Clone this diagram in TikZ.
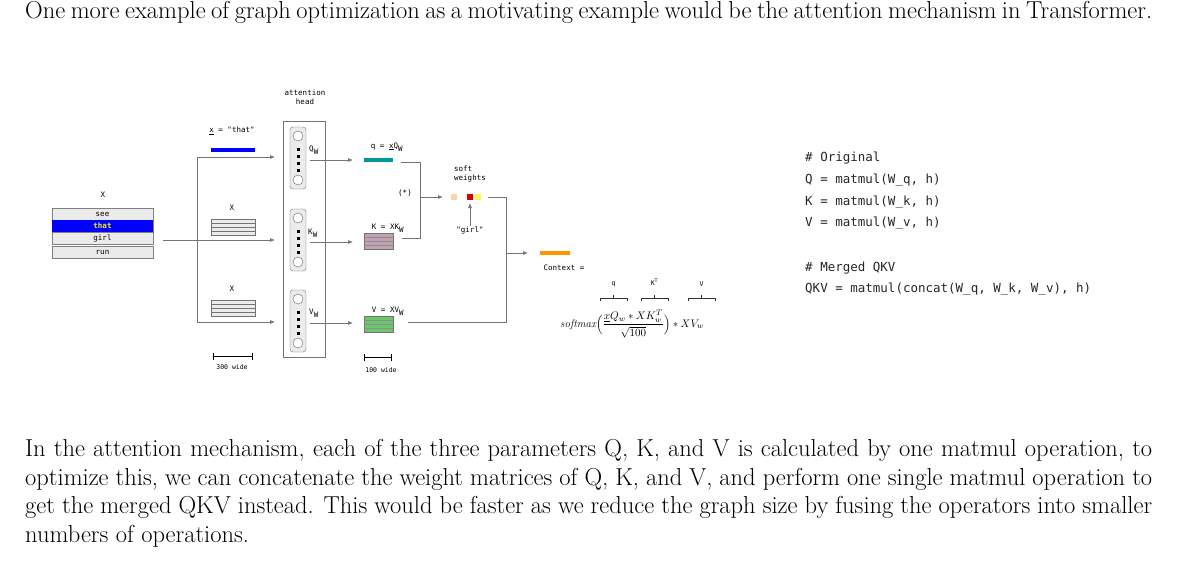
\documentclass[tikz,border=0pt]{standalone}
\usepackage{fontspec}
\usepackage{amsmath}
\newfontfamily\mono{DejaVu Sans Mono}
\begin{document}
\begin{tikzpicture}[x=1pt,y=-1pt,
  sm/.style={font=\mono\fontsize{7.5}{9}\selectfont,inner sep=0pt},
  code/.style={font=\mono\fontsize{12.5}{15}\selectfont,anchor=west,inner sep=0pt,text=black!85},
  ln/.style={draw=black!55,line width=0.7pt},
  arr/.style={ln,-{Latex[length=5pt,width=4pt]}},
  para/.style={anchor=north west,inner sep=0pt,text width=1127pt,align=justify,font=\fontsize{24.5}{28.6}\selectfont}]
\usetikzlibrary{arrows.meta}
\useasboundingbox (0,0) rectangle (1184,568);
\node[para] (top) at (25,1) {One more example of graph optimization as a motivating example would be the attention mechanism in Transformer.};
\node[para] (bot) at (25,439) {In the attention mechanism, each of the three parameters Q, K, and V is calculated by one matmul operation, to optimize this, we can concatenate the weight matrices of Q, K, and V, and perform one single matmul operation to get the merged QKV instead. This would be faster as we reduce the graph size by fusing the operators into smaller numbers of operations.};
% word table
\node[sm] (X0) at (103,195) {X};
\foreach \n/\w/\a/\b in {s/see/208/220,t/that/220/232,g/girl/232/244,r/run/246/258}{
  \filldraw[fill=black!8,draw=black!50] (52,\a) rectangle (153,\b);
  \node[sm] (w\n) at (102.5,{(\a+\b)/2}) {\w};}
\fill[blue] (52,220) rectangle (153,232);
\node[sm,text=yellow,font=\mono\bfseries\fontsize{7.5}{9}\selectfont] at (102.5,226) {that};
\coordinate (tabR) at (163,240);
\coordinate (hK) at (275,240);
\draw[arr] (tabR) -- (hK);
\coordinate (vt) at (197,157); \coordinate (vb) at (197,322);
\coordinate (hQ) at (275,157); \coordinate (hV) at (275,322);
\draw[ln] (vt) -- (vb);
\draw[arr] (vt) -- (hQ);
\draw[arr] (vb) -- (hV);
\node[sm] (xthat) at (232,131) {\underline{x} = "that"};
\fill[blue] (211,148) rectangle (255,152);
\node[sm] (x1) at (232,208) {X};
\node[sm] (x2) at (232,289) {X};
\foreach \y in {219,300}{
  \filldraw[fill=black!8,draw=black!55] (211,\y) rectangle (255,\y+16);
  \foreach \k in {4,8,12} \draw[black!55] (211,\y+\k) -- (255,\y+\k);}
% attention head
\node[sm,align=center] (ah) at (305,97) {attention\\head};
\draw[black!55,fill=white] (283,121) rectangle (325,357);
\foreach \a in {127,209,290}{
  \draw[black!55,fill=black!8,rounded corners=3pt] (290,\a) rectangle (306,\a+62);
  \draw[black!60,fill=white] (298,\a+9) circle (5);
  \draw[black!60,fill=white] (298,\a+53) circle (5);
  \foreach \k in {21,28,35,42} \fill (297,\a+\k) rectangle (299.5,\a+\k+2.5);}
\node[sm] (QW) at (314,150) {Q$_{\mbox{\mono\fontsize{7.5}{9}\selectfont W}}$};
\node[sm] (KW) at (313,233) {K$_{\mbox{\mono\fontsize{7.5}{9}\selectfont W}}$};
\node[sm] (VW) at (314,313) {V$_{\mbox{\mono\fontsize{7.5}{9}\selectfont W}}$};
\coordinate (oQ) at (310,160); \coordinate (oK) at (310,242); \coordinate (oV) at (310,323);
\coordinate (iq) at (353,160); \coordinate (iK) at (353,242); \coordinate (iV) at (353,323);
\draw[arr] (oQ) -- (iq); \draw[arr] (oK) -- (iK); \draw[arr] (oV) -- (iV);
% q K V
\fill[teal!80!cyan] (364,158) rectangle (393,162);
\node[sm] (qlab) at (387,147) {q = \underline{x}Q$_{\mbox{\mono\fontsize{7.5}{9}\selectfont W}}$};
\node[sm] (Klab) at (388,228) {K = XK$_{\mbox{\mono\fontsize{7.5}{9}\selectfont W}}$};
\node[sm] (Vlab) at (388,311) {V = XV$_{\mbox{\mono\fontsize{7.5}{9}\selectfont W}}$};
\foreach \y/\c in {233/{magenta!25!gray!70},316/{green!45!gray!80}}{
  \filldraw[fill=\c,draw=black!55] (364,\y) rectangle (393,\y+16);
  \foreach \k in {4,8,12} \draw[black!45] (364,\y+\k) -- (393,\y+\k);}
\coordinate (qo) at (401,162); \coordinate (Ko) at (402,238); \coordinate (Vo) at (408,322);
\coordinate (j) at (420,197); \coordinate (sw) at (443,197);
\draw[ln] (qo) -- (420,162) -- (420,238) -- (Ko);
\draw[arr] (j) -- (sw);
\node[sm] (star) at (405,193) {(*)};
\node[sm,align=left] (soft) at (470,174) {soft\\weights};
\fill[orange!35] (451,194) rectangle (457,200);
\fill[red!85!black] (467,194) rectangle (473,200);
\fill[yellow!70] (475,194) rectangle (481,200);
\node[sm] (girl) at (470,230) {"girl"};
\draw[arr] (girl.north) -- (470,203);
\coordinate (so) at (488,197); \coordinate (m) at (506,253); \coordinate (ci) at (528,253);
\draw[ln] (so) -- (506,197) -- (506,322) -- (Vo);
\draw[arr] (m) -- (ci);
\fill[orange!85!yellow] (540,251) rectangle (570,255);
\node[sm] (ctx) at (564,268) {Context =};
% formula
\node[inner sep=0pt,font=\fontsize{11}{13}\selectfont] (f) at (632,324) {$\mathit{softmax}\Big(\dfrac{\underline{x}Q_w * XK_w^T}{\sqrt{100}}\Big) * XV_w$};
\foreach \a/\b/\t/\yy in {600/627/q/284,641/668/{K$^{\mbox{\tiny T}}$}/282,688/715/V/284}{
  \draw[black!80,line width=0.6pt] (\a,301) -- (\a,298) -- (\b,298) -- (\b,301);
  \draw[black!80,line width=0.6pt] ({(\a+\b)/2},298) -- ({(\a+\b)/2},295);
  \node[sm,font=\mono\fontsize{6.5}{8}\selectfont] at ({(\a+\b)/2},\yy) {\t};}
% scales
\draw[line width=1pt,|-|] (213,356) -- (253,356);
\node[sm,font=\mono\fontsize{6.5}{8}\selectfont] (s300) at (232,367) {300 wide};
\draw[line width=1pt,|-|] (364,357) -- (392,357);
\node[sm,font=\mono\fontsize{6.5}{8}\selectfont] (s100) at (381,370) {100 wide};
% code
\node[code] (c1) at (805,158) {\# Original};
\node[code] (c2) at (805,180) {Q = matmul(W\_q, h)};
\node[code] (c3) at (805,202) {K = matmul(W\_k, h)};
\node[code] (c4) at (805,223) {V = matmul(W\_v, h)};
\node[code] (c5) at (805,268) {\# Merged QKV};
\node[code] (c6) at (805,289) {QKV = matmul(concat(W\_q, W\_k, W\_v), h)};
\end{tikzpicture}
\end{document}
